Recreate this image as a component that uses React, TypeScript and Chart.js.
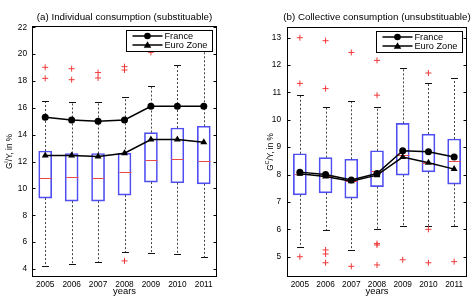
import { useEffect, useRef } from "react";
import { Chart, registerables } from "chart.js";

Chart.register(...registerables);

const years = [2005, 2006, 2007, 2008, 2009, 2010, 2011];

// (a) Individual consumption, G^I / Y in %
const indQ1 = [9.28, 9.05, 9.05, 9.5, 10.47, 10.42, 10.34];
const indMedian = [10.74, 10.84, 10.79, 11.23, 12.1, 12.17, 12.07];
const indQ3 = [12.79, 12.6, 12.6, 12.62, 14.16, 14.5, 14.63];
const indWhiskerLow = [4.2, 4.38, 4.5, 5.29, 5.19, 5.09, 4.9];
const indWhiskerHigh = [16.54, 16.42, 16.42, 16.81, 17.6, 19.2, 20.8];
const indOutliers = [
  [2005, 19.02], [2005, 18.2], [2006, 18.92], [2006, 18.1],
  [2007, 18.63], [2007, 18.23], [2008, 19.07], [2008, 18.82],
  [2008, 4.6], [2009, 20.14],
];
const indFrance = [15.3, 15.1, 15.0, 15.1, 16.12, 16.12, 16.12];
const indEuro = [12.45, 12.45, 12.37, 12.62, 13.64, 13.64, 13.44];
const indTicks = [4, 6, 8, 10, 12, 14, 16, 18, 20, 22];

// (b) Collective consumption, G^C / Y in %
const colQ1 = [7.26, 7.33, 7.14, 7.56, 7.98, 8.1, 7.65];
const colMedian = [8.02, 7.95, 7.78, 8.12, 8.71, 8.44, 8.5];
const colQ3 = [8.76, 8.62, 8.56, 8.87, 9.87, 9.48, 9.3];
const colWhiskerLow = [5.36, 5.97, 5.24, 6.0, 6.12, 6.12, 6.12];
const colWhiskerHigh = [10.9, 10.47, 10.7, 10.48, 11.89, 11.33, 11.52];
const colOutliers = [
  [2005, 13.0], [2005, 11.33], [2005, 5.0],
  [2006, 12.89], [2006, 11.14], [2006, 5.25], [2006, 5.1], [2006, 4.78],
  [2007, 12.46], [2007, 4.65],
  [2008, 12.17], [2008, 10.9], [2008, 5.48], [2008, 5.43], [2008, 4.7],
  [2009, 4.89],
  [2010, 11.71], [2010, 6.0], [2010, 4.78],
  [2011, 4.82],
];
const colFrance = [8.09, 8.0, 7.8, 8.04, 8.87, 8.83, 8.64];
const colEuro = [8.03, 7.93, 7.76, 7.98, 8.64, 8.43, 8.2];
const colTicks = [5, 6, 7, 8, 9, 10, 11, 12, 13];

const FONT = '"Liberation Sans", Arial, Helvetica, sans-serif';
const BOX_BLUE = "#4e4ef2";
const MEDIAN_RED = "#ea4a4a";
const OUTLIER_RED = "#f03a3a";
// captions are drawn slightly widened
const TEXT_STRETCH = 1.15;
const LEGEND_STRETCH = 1.08;

type PanelSpec = {
  title: string;
  sup: string;
  q1: number[];
  median: number[];
  q3: number[];
  low: number[];
  high: number[];
  outliers: number[][];
  france: number[];
  euro: number[];
  ticks: number[];
  yMin: number;
  yMax: number;
  width: number;
  axisWidth: number;
  padRight: number;
  padTop: number;
  tickPad: number;
  labelX: number;
};

function drawMarker(ctx: CanvasRenderingContext2D, style: string, x: number, y: number, r: number) {
  ctx.beginPath();
  if (style === "circle") {
    ctx.arc(x, y, r, 0, Math.PI * 2);
  } else {
    const h = r * 1.15;
    ctx.moveTo(x, y - h);
    ctx.lineTo(x + h, y + h * 0.75);
    ctx.lineTo(x - h, y + h * 0.75);
    ctx.closePath();
  }
  ctx.fill();
}

function stretchedText(
  ctx: CanvasRenderingContext2D,
  text: string,
  x: number,
  y: number,
  align: CanvasTextAlign,
  stretch: number
) {
  ctx.save();
  ctx.translate(x, y);
  ctx.scale(stretch, 1);
  ctx.textAlign = align;
  ctx.fillText(text, 0, 0);
  ctx.restore();
}

function panelPlugin(spec: PanelSpec) {
  return {
    id: "panelDecor",
    afterDatasetDraw(chart: any, args: any) {
      if (args.index !== 0) return;
      // whiskers, caps and medians of the box plot
      const ctx = chart.ctx as CanvasRenderingContext2D;
      const xs = chart.scales.x;
      const ys = chart.scales.y;
      ctx.save();
      years.forEach((yr, i) => {
        const x = Math.round(xs.getPixelForValue(yr)) + 0.5;
        const yq1 = ys.getPixelForValue(spec.q1[i]);
        const yq3 = ys.getPixelForValue(spec.q3[i]);
        const ylo = Math.round(ys.getPixelForValue(spec.low[i])) + 0.5;
        const yhi = Math.round(ys.getPixelForValue(spec.high[i])) + 0.5;
        ctx.strokeStyle = "#444";
        ctx.lineWidth = 1;
        ctx.setLineDash([2, 2]);
        ctx.beginPath();
        ctx.moveTo(x, yq3);
        ctx.lineTo(x, yhi);
        ctx.moveTo(x, yq1);
        ctx.lineTo(x, ylo);
        ctx.stroke();
        ctx.setLineDash([]);
        ctx.strokeStyle = "#111";
        ctx.beginPath();
        ctx.moveTo(x - 3.5, yhi);
        ctx.lineTo(x + 3.5, yhi);
        ctx.moveTo(x - 3.5, ylo);
        ctx.lineTo(x + 3.5, ylo);
        ctx.stroke();
        const ym = Math.round(ys.getPixelForValue(spec.median[i])) + 0.5;
        ctx.strokeStyle = MEDIAN_RED;
        ctx.beginPath();
        ctx.moveTo(x - 6, ym);
        ctx.lineTo(x + 6, ym);
        ctx.stroke();
      });
      ctx.restore();
    },
    afterDraw(chart: any) {
      const ctx = chart.ctx as CanvasRenderingContext2D;
      const a = chart.chartArea;
      const ys = chart.scales.y;
      ctx.save();
      // axes frame with inward ticks
      ctx.strokeStyle = "#000";
      ctx.lineWidth = 1;
      const l = Math.round(a.left) + 0.5;
      const r = Math.round(a.right) - 0.5;
      const t = Math.round(a.top) + 0.5;
      const b = Math.round(a.bottom) - 0.5;
      ctx.strokeRect(l, t, r - l, b - t);
      ctx.beginPath();
      spec.ticks.forEach((v) => {
        const y = Math.round(ys.getPixelForValue(v)) + 0.5;
        ctx.moveTo(l, y);
        ctx.lineTo(l + 3, y);
        ctx.moveTo(r, y);
        ctx.lineTo(r - 3, y);
      });
      ctx.stroke();

      // title and x-axis label
      const cx = (a.left + a.right) / 2;
      ctx.fillStyle = "#000";
      ctx.textBaseline = "middle";
      ctx.font = `8.5px ${FONT}`;
      stretchedText(ctx, spec.title, cx, 17.5, "center", TEXT_STRETCH);
      ctx.font = `8.2px ${FONT}`;
      stretchedText(ctx, "years", cx, 292, "center", TEXT_STRETCH);

      // rotated y-axis label with superscript
      ctx.save();
      ctx.translate(spec.labelX, (a.top + a.bottom) / 2);
      ctx.rotate(-Math.PI / 2);
      ctx.textAlign = "left";
      ctx.textBaseline = "alphabetic";
      const main = `8.2px ${FONT}`;
      const small = `5.5px ${FONT}`;
      ctx.font = main;
      const wG = ctx.measureText("G").width;
      const rest = "/Y, in %";
      const wR = ctx.measureText(rest).width;
      ctx.font = small;
      const wS = ctx.measureText(spec.sup).width;
      let x0 = -(wG + wS + wR) / 2;
      ctx.font = main;
      ctx.fillText("G", x0, 3);
      x0 += wG;
      ctx.font = small;
      ctx.fillText(spec.sup, x0, -1);
      x0 += wS;
      ctx.font = main;
      ctx.fillText(rest, x0, 3);
      ctx.restore();

      // legend box
      const lw = 86;
      const lh = 21;
      const lx = Math.round(a.right - 5 - lw) + 0.5;
      const ly = Math.round(a.top + 4) + 0.5;
      ctx.fillStyle = "#fff";
      ctx.fillRect(lx, ly, lw, lh);
      ctx.strokeStyle = "#000";
      ctx.lineWidth = 1;
      ctx.strokeRect(lx, ly, lw, lh);
      const entries = [
        { label: "France", style: "circle" },
        { label: "Euro Zone", style: "triangle" },
      ];
      entries.forEach((e, i) => {
        const ey = ly + 5.5 + i * 9;
        ctx.strokeStyle = "#000";
        ctx.lineWidth = 1.5;
        ctx.beginPath();
        ctx.moveTo(lx + 6, ey);
        ctx.lineTo(lx + 36, ey);
        ctx.stroke();
        ctx.fillStyle = "#000";
        drawMarker(ctx, e.style, lx + 21, ey, 3.3);
        ctx.font = `8.5px ${FONT}`;
        ctx.textBaseline = "middle";
        stretchedText(ctx, e.label, lx + 38, ey + 0.5, "left", LEGEND_STRETCH);
      });
      ctx.restore();
    },
  };
}

function makeConfig(spec: PanelSpec): any {
  const pts = (vals: number[]) => years.map((x, i) => ({ x, y: vals[i] }));
  return {
    type: "bar",
    data: {
      datasets: [
        {
          type: "bar",
          data: years.map((x, i) => ({ x, y: [spec.q1[i], spec.q3[i]] })),
          backgroundColor: "rgba(0,0,0,0)",
          borderColor: BOX_BLUE,
          borderWidth: 1,
          borderSkipped: false,
          barThickness: 13,
          order: 3,
        },
        {
          type: "scatter",
          data: spec.outliers.map(([x, y]) => ({ x, y })),
          pointStyle: "cross",
          pointRadius: 3,
          borderColor: OUTLIER_RED,
          borderWidth: 1,
          order: 2,
        },
        {
          type: "line",
          label: "Euro Zone",
          data: pts(spec.euro),
          borderColor: "#000",
          backgroundColor: "#000",
          borderWidth: 1.5,
          pointStyle: "triangle",
          pointRadius: 4,
          pointBorderWidth: 0,
          order: 1,
        },
        {
          type: "line",
          label: "France",
          data: pts(spec.france),
          borderColor: "#000",
          backgroundColor: "#000",
          borderWidth: 1.5,
          pointStyle: "circle",
          pointRadius: 3.5,
          pointBorderWidth: 0,
          order: 0,
        },
      ],
    },
    options: {
      responsive: false,
      animation: false,
      devicePixelRatio: 1,
      layout: { padding: { left: 0, right: spec.padRight, top: spec.padTop, bottom: 0 } },
      plugins: { legend: { display: false }, tooltip: { enabled: false } },
      scales: {
        x: {
          type: "linear",
          min: 2004.5,
          max: 2011.5,
          offset: false,
          grid: { display: false, drawTicks: false },
          border: { display: false },
          afterBuildTicks: (s: any) => {
            s.ticks = years.map((v) => ({ value: v }));
          },
          afterFit: (s: any) => {
            s.height = 23;
          },
          ticks: {
            callback: (v: any) => String(v),
            font: { family: FONT, size: 8.3 },
            color: "#000",
            padding: 3,
            autoSkip: false,
            maxRotation: 0,
          },
        },
        y: {
          type: "linear",
          min: spec.yMin,
          max: spec.yMax,
          grid: { display: false, drawTicks: false },
          border: { display: false },
          afterBuildTicks: (s: any) => {
            s.ticks = spec.ticks.map((v) => ({ value: v }));
          },
          afterFit: (s: any) => {
            s.width = spec.axisWidth;
          },
          ticks: {
            callback: (v: any) => String(v),
            font: { family: FONT, size: 8.3 },
            color: "#000",
            padding: spec.tickPad,
          },
        },
      },
    },
    plugins: [panelPlugin(spec)],
  };
}

const panelA: PanelSpec = {
  title: "(a) Individual consumption (substituable)",
  sup: "I",
  q1: indQ1,
  median: indMedian,
  q3: indQ3,
  low: indWhiskerLow,
  high: indWhiskerHigh,
  outliers: indOutliers,
  france: indFrance,
  euro: indEuro,
  ticks: indTicks,
  yMin: 3.4,
  yMax: 22.1,
  width: 236,
  axisWidth: 32,
  padRight: 19,
  padTop: 26,
  tickPad: 5,
  labelX: 9,
};

const panelB: PanelSpec = {
  title: "(b) Collective consumption (unsubstituable)",
  sup: "C",
  q1: colQ1,
  median: colMedian,
  q3: colQ3,
  low: colWhiskerLow,
  high: colWhiskerHigh,
  outliers: colOutliers,
  france: colFrance,
  euro: colEuro,
  ticks: colTicks,
  yMin: 4.26,
  yMax: 13.39,
  width: 237,
  axisWidth: 51,
  padRight: 6,
  padTop: 27,
  tickPad: 6,
  labelX: 34,
};

function Panel({ spec, left }: { spec: PanelSpec; left: number }) {
  const ref = useRef<HTMLCanvasElement | null>(null);
  useEffect(() => {
    if (!ref.current) return;
    const chart = new Chart(ref.current, makeConfig(spec));
    return () => chart.destroy();
  }, [spec]);
  return (
    <canvas
      ref={ref}
      width={spec.width}
      height={300}
      style={{ position: "absolute", left, top: 0, width: spec.width, height: 300 }}
    />
  );
}

export default function App() {
  return (
    <div
      style={{
        position: "fixed",
        left: 0,
        top: 0,
        width: 473,
        height: 300,
        background: "#fff",
        overflow: "hidden",
      }}
    >
      <Panel spec={panelA} left={0} />
      <Panel spec={panelB} left={236} />
    </div>
  );
}
